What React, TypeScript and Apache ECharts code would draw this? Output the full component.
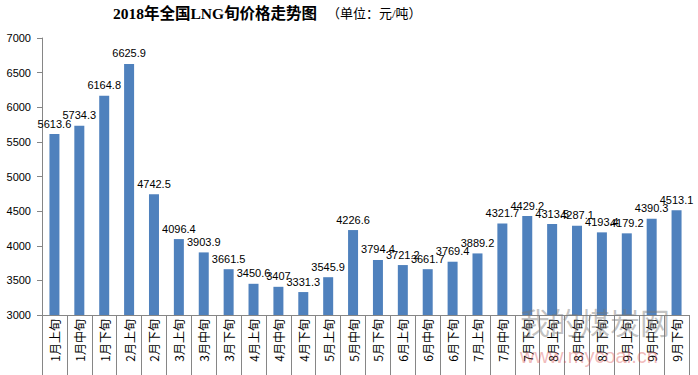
import React, { useEffect, useRef } from "react";
import * as echarts from "echarts";

const categories = [
  "1月上旬", "1月中旬", "1月下旬", "2月上旬", "2月下旬", "3月上旬", "3月中旬", "3月下旬",
  "4月上旬", "4月中旬", "4月下旬", "5月上旬", "5月中旬", "5月下旬", "6月上旬", "6月中旬",
  "6月下旬", "7月上旬", "7月中旬", "7月下旬", "8月上旬", "8月中旬", "8月下旬", "9月上旬",
  "9月中旬", "9月下旬",
];
const prices = [
  5613.6, 5734.3, 6164.8, 6625.9, 4742.5, 4096.4, 3903.9, 3661.5, 3450.6, 3407, 3331.3,
  3545.9, 4226.6, 3794.4, 3721.2, 3661.7, 3769.4, 3889.2, 4321.7, 4429.2, 4313.5, 4287.1,
  4193.4, 4179.2, 4390.3, 4513.1,
];
const yMin = 3000;
const yMax = 7000;
const yStep = 500;
const titleText = "2018年全国LNG旬价格走势图";
const unitText = "（单位：元/吨）";

export default function App() {
  const ref = useRef<HTMLDivElement>(null);
  useEffect(() => {
    if (!ref.current) return;
    const chart = echarts.init(ref.current, null, { renderer: "svg" });
    chart.setOption({
      animation: false,
      backgroundColor: "#ffffff",
      grid: { left: 42, top: 38, width: 647, height: 277, containLabel: false },
      xAxis: {
        type: "category",
        data: categories,
        axisLine: { lineStyle: { color: "#868686", width: 1 } },
        axisTick: { show: true, interval: 0, length: 60, lineStyle: { color: "#868686" } },
        axisLabel: {
          interval: 0,
          rotate: 90,
          fontSize: 12,
          color: "#000",
          margin: 4,
          fontFamily: "Noto Sans CJK SC",
        },
      },
      yAxis: {
        type: "value",
        min: yMin,
        max: yMax,
        interval: yStep,
        axisLine: { show: true, lineStyle: { color: "#868686" } },
        axisTick: { show: true, length: 5, lineStyle: { color: "#868686" } },
        splitLine: { show: false },
        axisLabel: {
          fontSize: 11,
          color: "#000",
          margin: 11,
          fontFamily: "Liberation Sans",
          formatter: (v: number) => String(v),
        },
      },
      series: [
        {
          type: "bar",
          data: prices,
          barWidth: 10,
          itemStyle: { color: "#4F81BD" },
          label: {
            show: true,
            position: "top",
            distance: 5,
            fontSize: 11,
            color: "#000",
            fontFamily: "Liberation Sans",
          },
        },
      ],
      graphic: [
        {
          type: "text",
          left: 113,
          top: 6,
          style: {
            text: titleText,
            fontSize: 15.5,
            fontWeight: "bold",
            fontFamily: "'Liberation Serif', 'Noto Sans CJK SC'",
            fill: "#000",
          },
        },
        {
          type: "text",
          left: 327,
          top: 7,
          style: {
            text: unitText,
            fontSize: 13,
            fontFamily: "'Liberation Serif', 'Noto Sans CJK SC'",
            fill: "#000",
          },
        },
        {
          type: "text",
          left: 520,
          top: 306,
          z: 10,
          style: {
            text: "我的煤炭网",
            fontSize: 30,
            fontFamily: "Noto Sans CJK SC",
            fill: "rgba(120,120,120,0.45)",
          },
        },
        {
          type: "text",
          left: 520,
          top: 346,
          z: 10,
          style: {
            text: "www.mycoal.cn",
            fontSize: 20,
            fontFamily: "Liberation Sans",
            fill: "rgba(220,80,80,0.4)",
          },
        },
      ],
    });
    return () => chart.dispose();
  }, []);
  return (
    <div
      ref={ref}
      style={{ position: "absolute", left: 0, top: 0, width: 698, height: 375 }}
    />
  );
}
